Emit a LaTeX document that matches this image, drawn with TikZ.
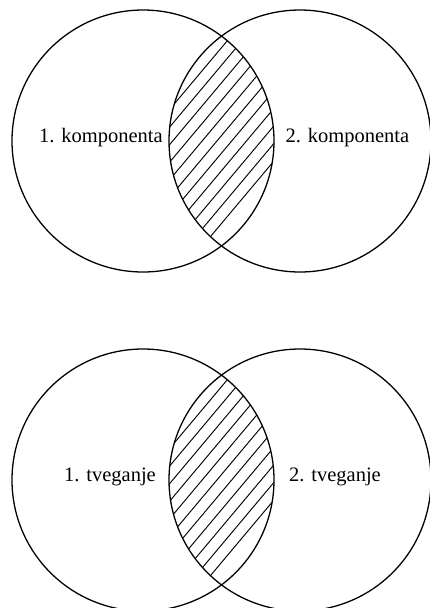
\documentclass[tikz,border=0pt]{standalone}
\usepackage{fontspec}
\setmainfont{Liberation Serif}
\usetikzlibrary{calc}

\begin{document}
\begin{tikzpicture}[
    x=0.03cm, y=-0.03cm,
    ring/.style={draw=black, line width=1.1pt},
    hatch/.style={draw=black, line width=0.8pt},
    label/.style={font=\fontsize{17.5}{20}\selectfont, inner sep=0pt}
]

% page frame
\useasboundingbox (0,0) rectangle (430,608);

% two Venn diagrams, one above the other
\foreach \dy/\nm/\ta/\tb/\xa/\xb in {0/top/1. komponenta/2. komponenta/101/347.5,
                                      339/bot/1. tveganje/2. tveganje/110/335}{
  \begin{scope}[shift={(0,\dy)}]
    % hatched overlap
    \begin{scope}
      \clip (143,141) circle[radius=131];
      \clip (300,141) circle[radius=131];
      \foreach \k in {0,...,10}{
        \pgfmathsetmacro{\s}{-60+11.3*\k}
        \draw[hatch] ({221.5+0.766*\s-0.643*160},{141+0.643*\s+0.766*160})
          -- ++({0.643*320},{-0.766*320});
      }
    \end{scope}

    % circles
    \draw[ring] (143,141) circle[radius=131];
    \draw[ring] (300,141) circle[radius=131];

    % labels
    \node[label] (\nm-a) at (\xa,138) {\ta};
    \node[label] (\nm-b) at (\xb,138) {\tb};
  \end{scope}
}

\end{tikzpicture}
\end{document}
